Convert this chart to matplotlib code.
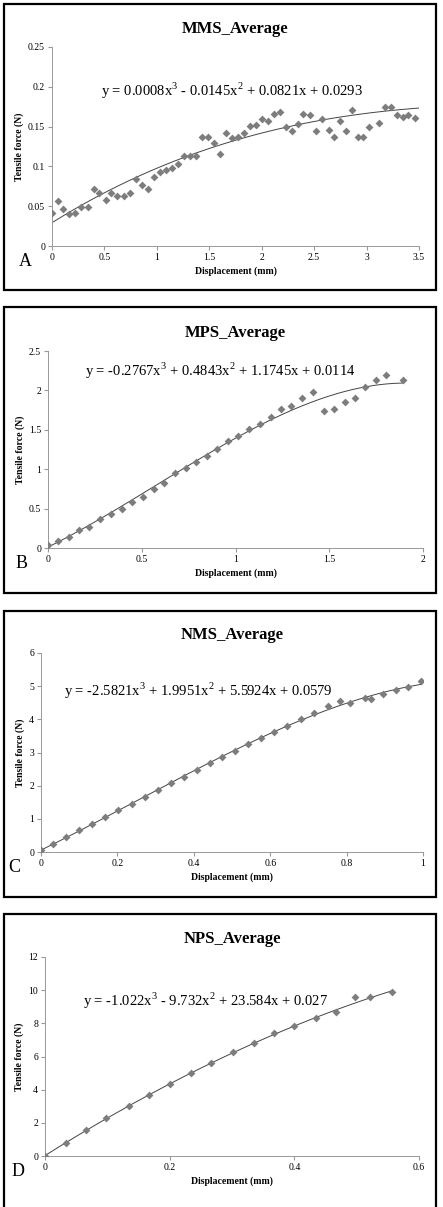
import numpy as np
import matplotlib
matplotlib.use("Agg")
import matplotlib.pyplot as plt
from matplotlib.patches import Rectangle

plt.rcParams['font.family'] = ['Liberation Serif', 'DejaVu Serif']

W, H = 443, 1207

# ---- data ----
mms_x = [0, .054, .108, .165, .223, .280, .340, .398, .452, .512, .566, .624, .684, .745, .802,
         .862, .916, .970, 1.031, 1.088, 1.145, 1.203, 1.257, 1.317, 1.378, 1.432, 1.492, 1.546,
         1.604, 1.664, 1.721, 1.775, 1.833, 1.887, 1.947, 2.004, 2.062, 2.116, 2.173, 2.227,
         2.288, 2.342, 2.396, 2.456, 2.517, 2.577, 2.638, 2.692, 2.749, 2.806, 2.864, 2.914,
         2.968, 3.026, 3.115, 3.172, 3.229, 3.287, 3.344, 3.398, 3.459]
mms_y = [.042, .056, .046, .040, .042, .049, .049, .072, .067, .058, .067, .063, .063, .066, .084,
         .077, .072, .087, .093, .096, .098, .103, .113, .113, .113, .137, .137, .129, .116, .142,
         .136, .137, .142, .151, .152, .160, .157, .166, .168, .149, .145, .153, .166, .164, .145,
         .160, .146, .137, .157, .144, .171, .137, .137, .149, .155, .175, .175, .164, .162, .165,
         .161]
mms_coef = [0.0008, -0.0145, 0.0821, 0.0293]

mps_x = [0, .055, .11, .165, .22, .277, .334, .395, .45, .507, .565, .62, .677, .734, .79, .848,
         .903, .96, 1.015, 1.07, 1.129, 1.188, 1.243, 1.298, 1.356, 1.413, 1.47, 1.527, 1.584,
         1.637, 1.692, 1.748, 1.804, 1.895]
mps_y = [.034, .093, .135, .228, .27, .367, .434, .50, .58, .653, .755, .83, .95, 1.016, 1.088,
         1.168, 1.26, 1.353, 1.42, 1.513, 1.572, 1.665, 1.766, 1.808, 1.90, 1.98, 1.733, 1.766,
         1.85, 1.90, 2.04, 2.13, 2.19, 2.13]
mps_coef = [-0.2767, 0.4843, 1.1745, 0.0114]

nms_x = [0, .032, .066, .10, .134, .168, .202, .238, .272, .307, .341, .375, .408, .442, .474,
         .507, .541, .576, .61, .645, .68, .715, .75, .783, .81, .849, .863, .896, .929, .96, .995]
nms_y = [.05, .24, .44, .66, .85, 1.05, 1.26, 1.46, 1.66, 1.86, 2.07, 2.27, 2.47, 2.68, 2.86,
         3.05, 3.25, 3.45, 3.62, 3.81, 4.0, 4.18, 4.40, 4.56, 4.48, 4.65, 4.60, 4.75, 4.89, 4.98,
         5.15]
nms_coef = [-2.5821, 1.9951, 5.5924, 0.0579]

nps_x = [0, .034, .065, .098, .135, .167, .20, .234, .267, .301, .335, .368, .40, .434, .467,
         .497, .522, .557]
nps_y = [.02, .80, 1.57, 2.29, 3.03, 3.69, 4.35, 4.98, 5.58, 6.28, 6.84, 7.39, 7.85, 8.31, 8.67,
         9.57, 9.61, 9.89]
nps_coef = [-1.022, -9.732, 23.584, 0.027]

panels = [
    dict(title="MMS_Average", letter="A", x=mms_x, y=mms_y, coef=mms_coef, xmax_fit=3.5,
         eq="y = 0.0008x$^3$ - 0.0145x$^2$ + 0.0821x + 0.0293",
         xlim=(0, 3.5), xticks=[0, 0.5, 1, 1.5, 2, 2.5, 3, 3.5],
         ylim=(0, 0.25), yticks=[0, 0.05, 0.1, 0.15, 0.2, 0.25],
         box=(4, 4, 436, 290), ax=(52, 47, 419, 246), eqpos=(0.49, 0.78)),
    dict(title="MPS_Average", letter="B", x=mps_x, y=mps_y, coef=mps_coef, xmax_fit=1.895,
         eq="y = -0.2767x$^3$ + 0.4843x$^2$ + 1.1745x + 0.0114",
         xlim=(0, 2), xticks=[0, 0.5, 1, 1.5, 2],
         ylim=(0, 2.5), yticks=[0, 0.5, 1, 1.5, 2, 2.5],
         box=(4, 307, 436, 593), ax=(48, 351, 423, 548), eqpos=(0.46, 0.90)),
    dict(title="NMS_Average", letter="C", x=nms_x, y=nms_y, coef=nms_coef, xmax_fit=0.995,
         eq="y = -2.5821x$^3$ + 1.9951x$^2$ + 5.5924x + 0.0579",
         xlim=(0, 1), xticks=[0, 0.2, 0.4, 0.6, 0.8, 1],
         ylim=(0, 6), yticks=[0, 1, 2, 3, 4, 5, 6],
         box=(4, 611, 436, 897), ax=(41, 653, 423, 852), eqpos=(0.41, 0.81)),
    dict(title="NPS_Average", letter="D", x=nps_x, y=nps_y, coef=nps_coef, xmax_fit=0.557,
         eq="y = -1.022x$^3$ - 9.732x$^2$ + 23.584x + 0.027",
         xlim=(0, 0.6), xticks=[0, 0.2, 0.4, 0.6],
         ylim=(0, 12), yticks=[0, 2, 4, 6, 8, 10, 12],
         box=(4, 914, 436, 1210), ax=(45, 957, 419, 1156), eqpos=(0.43, 0.78)),
]

plt.rcParams['mathtext.fontset'] = 'custom'
plt.rcParams['mathtext.rm'] = 'Liberation Serif'

fig = plt.figure(figsize=(W / 100, H / 100), dpi=100)


def frac_rect(x0, y0, x1, y1):
    return [x0 / W, 1 - y1 / H, (x1 - x0) / W, (y1 - y0) / H]


for p in panels:
    bx = frac_rect(*p["box"])
    fig.patches.append(Rectangle((bx[0], bx[1]), bx[2], bx[3], transform=fig.transFigure,
                                 fill=False, edgecolor="black", linewidth=1.6))
    ax = fig.add_axes(frac_rect(*p["ax"]))
    ax.scatter(p["x"], p["y"], marker="D", s=16, color="#7d7d7d", zorder=3, linewidths=0)
    xf = np.linspace(0, p["xmax_fit"], 200)
    ax.plot(xf, np.polyval(p["coef"], xf), color="#444444", linewidth=0.7, zorder=2)
    ax.set_xlim(*p["xlim"])
    ax.set_ylim(*p["ylim"])
    ax.set_xticks(p["xticks"])
    ax.set_yticks(p["yticks"])
    ax.set_xticklabels([f"{t:g}" for t in p["xticks"]])
    ax.set_yticklabels([f"{t:g}" for t in p["yticks"]])
    ax.tick_params(labelsize=7, length=3, color="#999999", direction="out", pad=2)
    for s in ("top", "right"):
        ax.spines[s].set_visible(False)
    for s in ("left", "bottom"):
        ax.spines[s].set_color("#999999")
        ax.spines[s].set_linewidth(0.7)
    ax.set_xlabel("Displacement (mm)", fontsize=7, fontweight="bold", labelpad=3)
    ax.set_ylabel("Tensile force (N)", fontsize=7, fontweight="bold", labelpad=3)
    ax.set_title(p["title"], fontsize=12, fontweight="bold", pad=10)
    ax.text(p["eqpos"][0], p["eqpos"][1], p["eq"], transform=ax.transAxes,
            ha="center", va="center", fontsize=10.5)
    ax.text(-0.055, -0.08, p["letter"], transform=ax.transAxes, ha="right", va="center",
            fontsize=13)

fig.savefig("out.png", dpi=100)
